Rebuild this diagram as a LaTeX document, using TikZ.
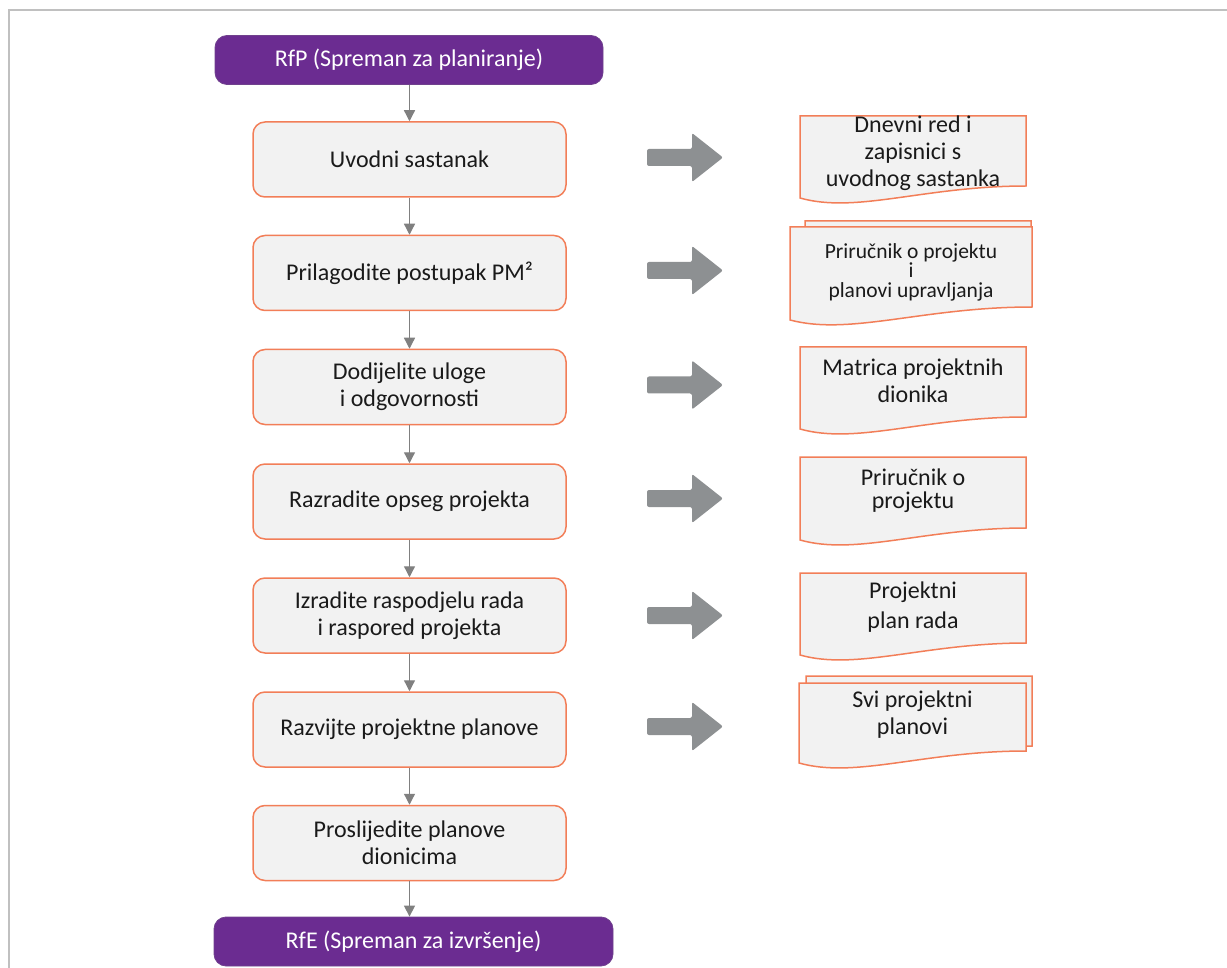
\documentclass[tikz,border=0pt]{standalone}
\usepackage{fontspec}
\setmainfont{Carlito}
\usetikzlibrary{arrows.meta}

\definecolor{pmpurple}{HTML}{6B2C91}
\definecolor{pmorange}{HTML}{F27E58}
\definecolor{stepfill}{HTML}{F2F2F2}
\definecolor{conngray}{HTML}{808080}
\definecolor{arrowgray}{HTML}{8D9092}
\definecolor{framegray}{HTML}{C0C0C0}
\definecolor{textdark}{HTML}{1A1A1A}

% document symbol: x0, top, width, right-edge height, left-edge height
\newcommand\drawdoc[5]{%
  \filldraw[docshape] (#1,#2) -- ({#1+#3},#2) -- ({#1+#3},{#2+#4})
    .. controls ({#1+0.55*#3},{#2+#4}) and ({#1+0.25*#3},{#2+#5+16}) .. (#1,{#2+#5}) -- cycle;}

\begin{document}
\begin{tikzpicture}[x=1pt,y=-1pt,
  every node/.style={font=\fontsize{24}{27}\selectfont, text=textdark},
  stepbox/.style={draw=pmorange, fill=stepfill, line width=1.5pt, rounded corners=12pt,
    minimum width=313pt, minimum height=75pt, align=center, inner sep=0pt},
  gate/.style={draw=pmpurple!75!gray, fill=pmpurple, text=white, rounded corners=12pt,
    minimum height=49pt, line width=0.8pt, inner sep=0pt},
  conn/.style={draw=conngray, line width=1.3pt, -{Triangle[length=11pt,width=11pt]}},
  doctext/.style={align=center, inner sep=0pt},
  smalltext/.style={font=\fontsize{21.5}{19.5}\selectfont},
  docshape/.style={draw=pmorange, fill=stepfill, line width=1.5pt},
  fatarrow/.pic={\fill[arrowgray, rounded corners=2pt]
    (-38,-8.5) -- (7,-8.5) -- (7,-24.5) -- (38,0) -- (7,24.5) -- (7,8.5) -- (-38,8.5) -- cycle;},
]
\useasboundingbox (0,0) rectangle (1227,968);

% outer frame
\draw[framegray, line width=2pt] (1227,10) -- (9,10) -- (9,968);

% start and end gates
\node[gate, minimum width=388pt] (rfp) at (409,60) {RfP (Spreman za planiranje)};
\node[gate, minimum width=399pt] (rfe) at (413.5,941.5) {RfE (Spreman za izvršenje)};

% process steps
\node[stepbox] (s1) at (409.5,159.5) {Uvodni sastanak};
\node[stepbox] (s2) at (409.5,273) {Prilagodite postupak PM²};
\node[stepbox] (s3) at (409.5,387) {Dodijelite uloge\\i odgovornosti};
\node[stepbox] (s4) at (409.5,501.5) {Razradite opseg projekta};
\node[stepbox] (s5) at (409.5,615.5) {Izradite raspodjelu rada\\i raspored projekta};
\node[stepbox] (s6) at (409.5,729.5) {Razvijte projektne planove};
\node[stepbox] (s7) at (409.5,843) {Proslijedite planove\\dionicima};

% flow
\draw[conn] (rfp.south -| s1.south) -- (s1.north);
\draw[conn] (s1) -- (s2);
\draw[conn] (s2) -- (s3);
\draw[conn] (s3) -- (s4);
\draw[conn] (s4) -- (s5);
\draw[conn] (s5) -- (s6);
\draw[conn] (s6) -- (s7);
\draw[conn] (s7.south) -- (s7.south |- rfe.north);

% output arrows
\pic at (685,157.5) {fatarrow};
\pic at (685,270.5) {fatarrow};
\pic at (685,385) {fatarrow};
\pic at (685,498.5) {fatarrow};
\pic at (685,615.5) {fatarrow};
\pic at (685,726.5) {fatarrow};

% deliverables
\drawdoc{800}{116}{226}{70}{82}
\node[doctext] (d1) at (913,153) {Dnevni red i\\zapisnici s\\uvodnog sastanka};

\drawdoc{805}{221}{226}{80}{93}
\drawdoc{790}{227}{242}{80}{93}
\node[doctext, smalltext] (d2) at (911,272) {Priručnik o projektu\\i\\planovi upravljanja};

\drawdoc{800}{347}{226}{70}{82}
\node[doctext] (d3) at (913,381) {Matrica projektnih\\dionika};

\drawdoc{800}{457}{226}{71}{83}
\node[doctext, font=\fontsize{24}{23}\selectfont] (d4) at (913,491) {Priručnik o\\projektu};

\drawdoc{800}{573}{226}{70}{82}
\node[doctext, font=\fontsize{24}{30}\selectfont] (d5) at (913,607) {Projektni\\plan rada};

\drawdoc{806}{676}{226}{70}{82}
\drawdoc{799}{683}{227}{68}{80}
\node[doctext] (d6) at (912.5,715) {Svi projektni\\planovi};

\end{tikzpicture}
\end{document}
